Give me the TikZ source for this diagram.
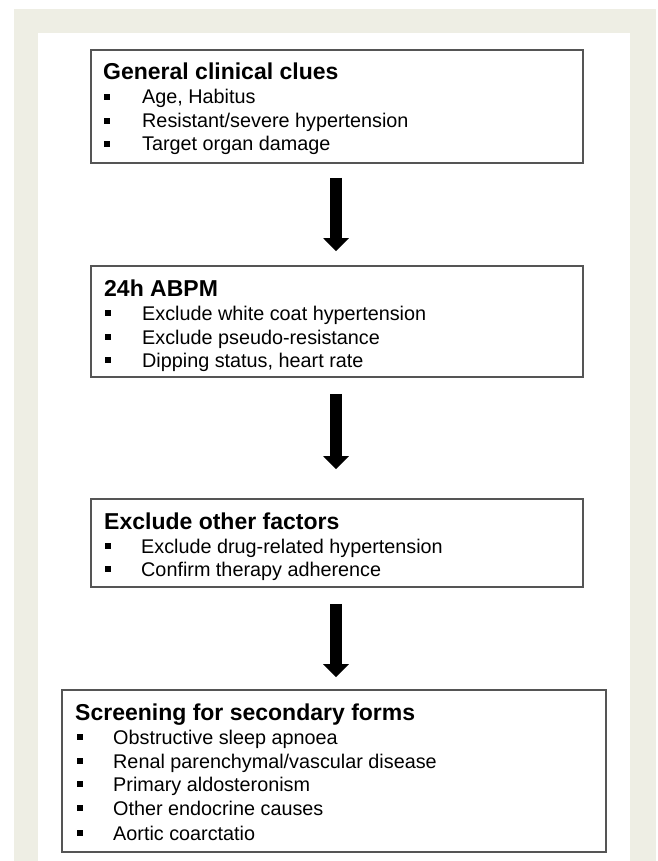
\documentclass[tikz,border=0pt]{standalone}
\usepackage{fontspec}
\setmainfont{Liberation Sans}
\usetikzlibrary{arrows.meta}
\definecolor{beige}{HTML}{EEEEE4}
\definecolor{boxline}{HTML}{555555}
\tikzset{
  box/.style={draw=boxline, line width=1.8pt, fill=white, inner sep=0pt, rectangle},
  ttl/.style={anchor=base west, inner sep=0pt, font=\fontsize{23}{23}\selectfont\bfseries},
  itm/.style={anchor=base west, inner sep=0pt, font=\fontsize{19.8}{20}\selectfont},
  bul/.style={fill=black, draw=none, minimum size=5.5pt, inner sep=0pt, rectangle},
  bigarrow/.style={line width=12.5pt, black, -{Triangle[width=25pt,length=13pt]}}
}
\begin{document}
\begin{tikzpicture}[x=1pt,y=-1pt]
\useasboundingbox (0,0) rectangle (657,861);
\fill[white] (0,0) rectangle (657,861);
\fill[beige] (14,9) rectangle (656,861);
\fill[white] (38,33) rectangle (630,861);

% boxes
\node[box, minimum width=492pt, minimum height=113pt] (b1) at (337,106.5) {};
\node[box, minimum width=492pt, minimum height=111pt] (b2) at (337,321.5) {};
\node[box, minimum width=492pt, minimum height=88pt]  (b3) at (337,543) {};
\node[box, minimum width=544pt, minimum height=162pt] (b4) at (334,771) {};

% box 1
\node[ttl] (t1) at (103,80) {General clinical clues};
\node[bul] (p11) at (107,97) {}; \node[itm] (i11) at (142,104) {Age, Habitus};
\node[bul] (p12) at (107,121) {}; \node[itm] (i12) at (142,128) {Resistant/severe hypertension};
\node[bul] (p13) at (107,144) {}; \node[itm] (i13) at (142,151) {Target organ damage};

% box 2
\node[ttl] (t2) at (104,296) {24h ABPM};
\node[bul] (p21) at (108,313) {}; \node[itm] (i21) at (142,320) {Exclude white coat hypertension};
\node[bul] (p22) at (108,337) {}; \node[itm] (i22) at (142,344) {Exclude pseudo-resistance};
\node[bul] (p23) at (108,360) {}; \node[itm] (i23) at (142,367) {Dipping status, heart rate};

% box 3
\node[ttl] (t3) at (104,529) {Exclude other factors};
\node[bul] (p31) at (108,546) {}; \node[itm] (i31) at (141,553) {Exclude drug-related hypertension};
\node[bul] (p32) at (108,569) {}; \node[itm] (i32) at (141,576) {Confirm therapy adherence};

% box 4
\node[ttl] (t4) at (75,720) {Screening for secondary forms};
\node[bul] (p41) at (80,737) {}; \node[itm] (i41) at (113,744) {Obstructive sleep apnoea};
\node[bul] (p42) at (80,761) {}; \node[itm] (i42) at (113,768) {Renal parenchymal/vascular disease};
\node[bul] (p43) at (80,784) {}; \node[itm] (i43) at (113,791) {Primary aldosteronism};
\node[bul] (p44) at (80,808) {}; \node[itm] (i44) at (113,815) {Other endocrine causes};
\node[bul] (p45) at (80,833) {}; \node[itm] (i45) at (113,840) {Aortic coarctatio};

% arrows
\draw[bigarrow] ([xshift=-1pt,yshift=-14pt]b1.south) -- ([xshift=-1pt,yshift=14pt]b2.north);
\draw[bigarrow] ([xshift=-1pt,yshift=-16pt]b2.south) -- ([xshift=-1pt,yshift=29pt]b3.north);
\draw[bigarrow] ([xshift=-1pt,yshift=-16pt]b3.south) -- ([xshift=2pt,yshift=12pt]b4.north);
\end{tikzpicture}
\end{document}
